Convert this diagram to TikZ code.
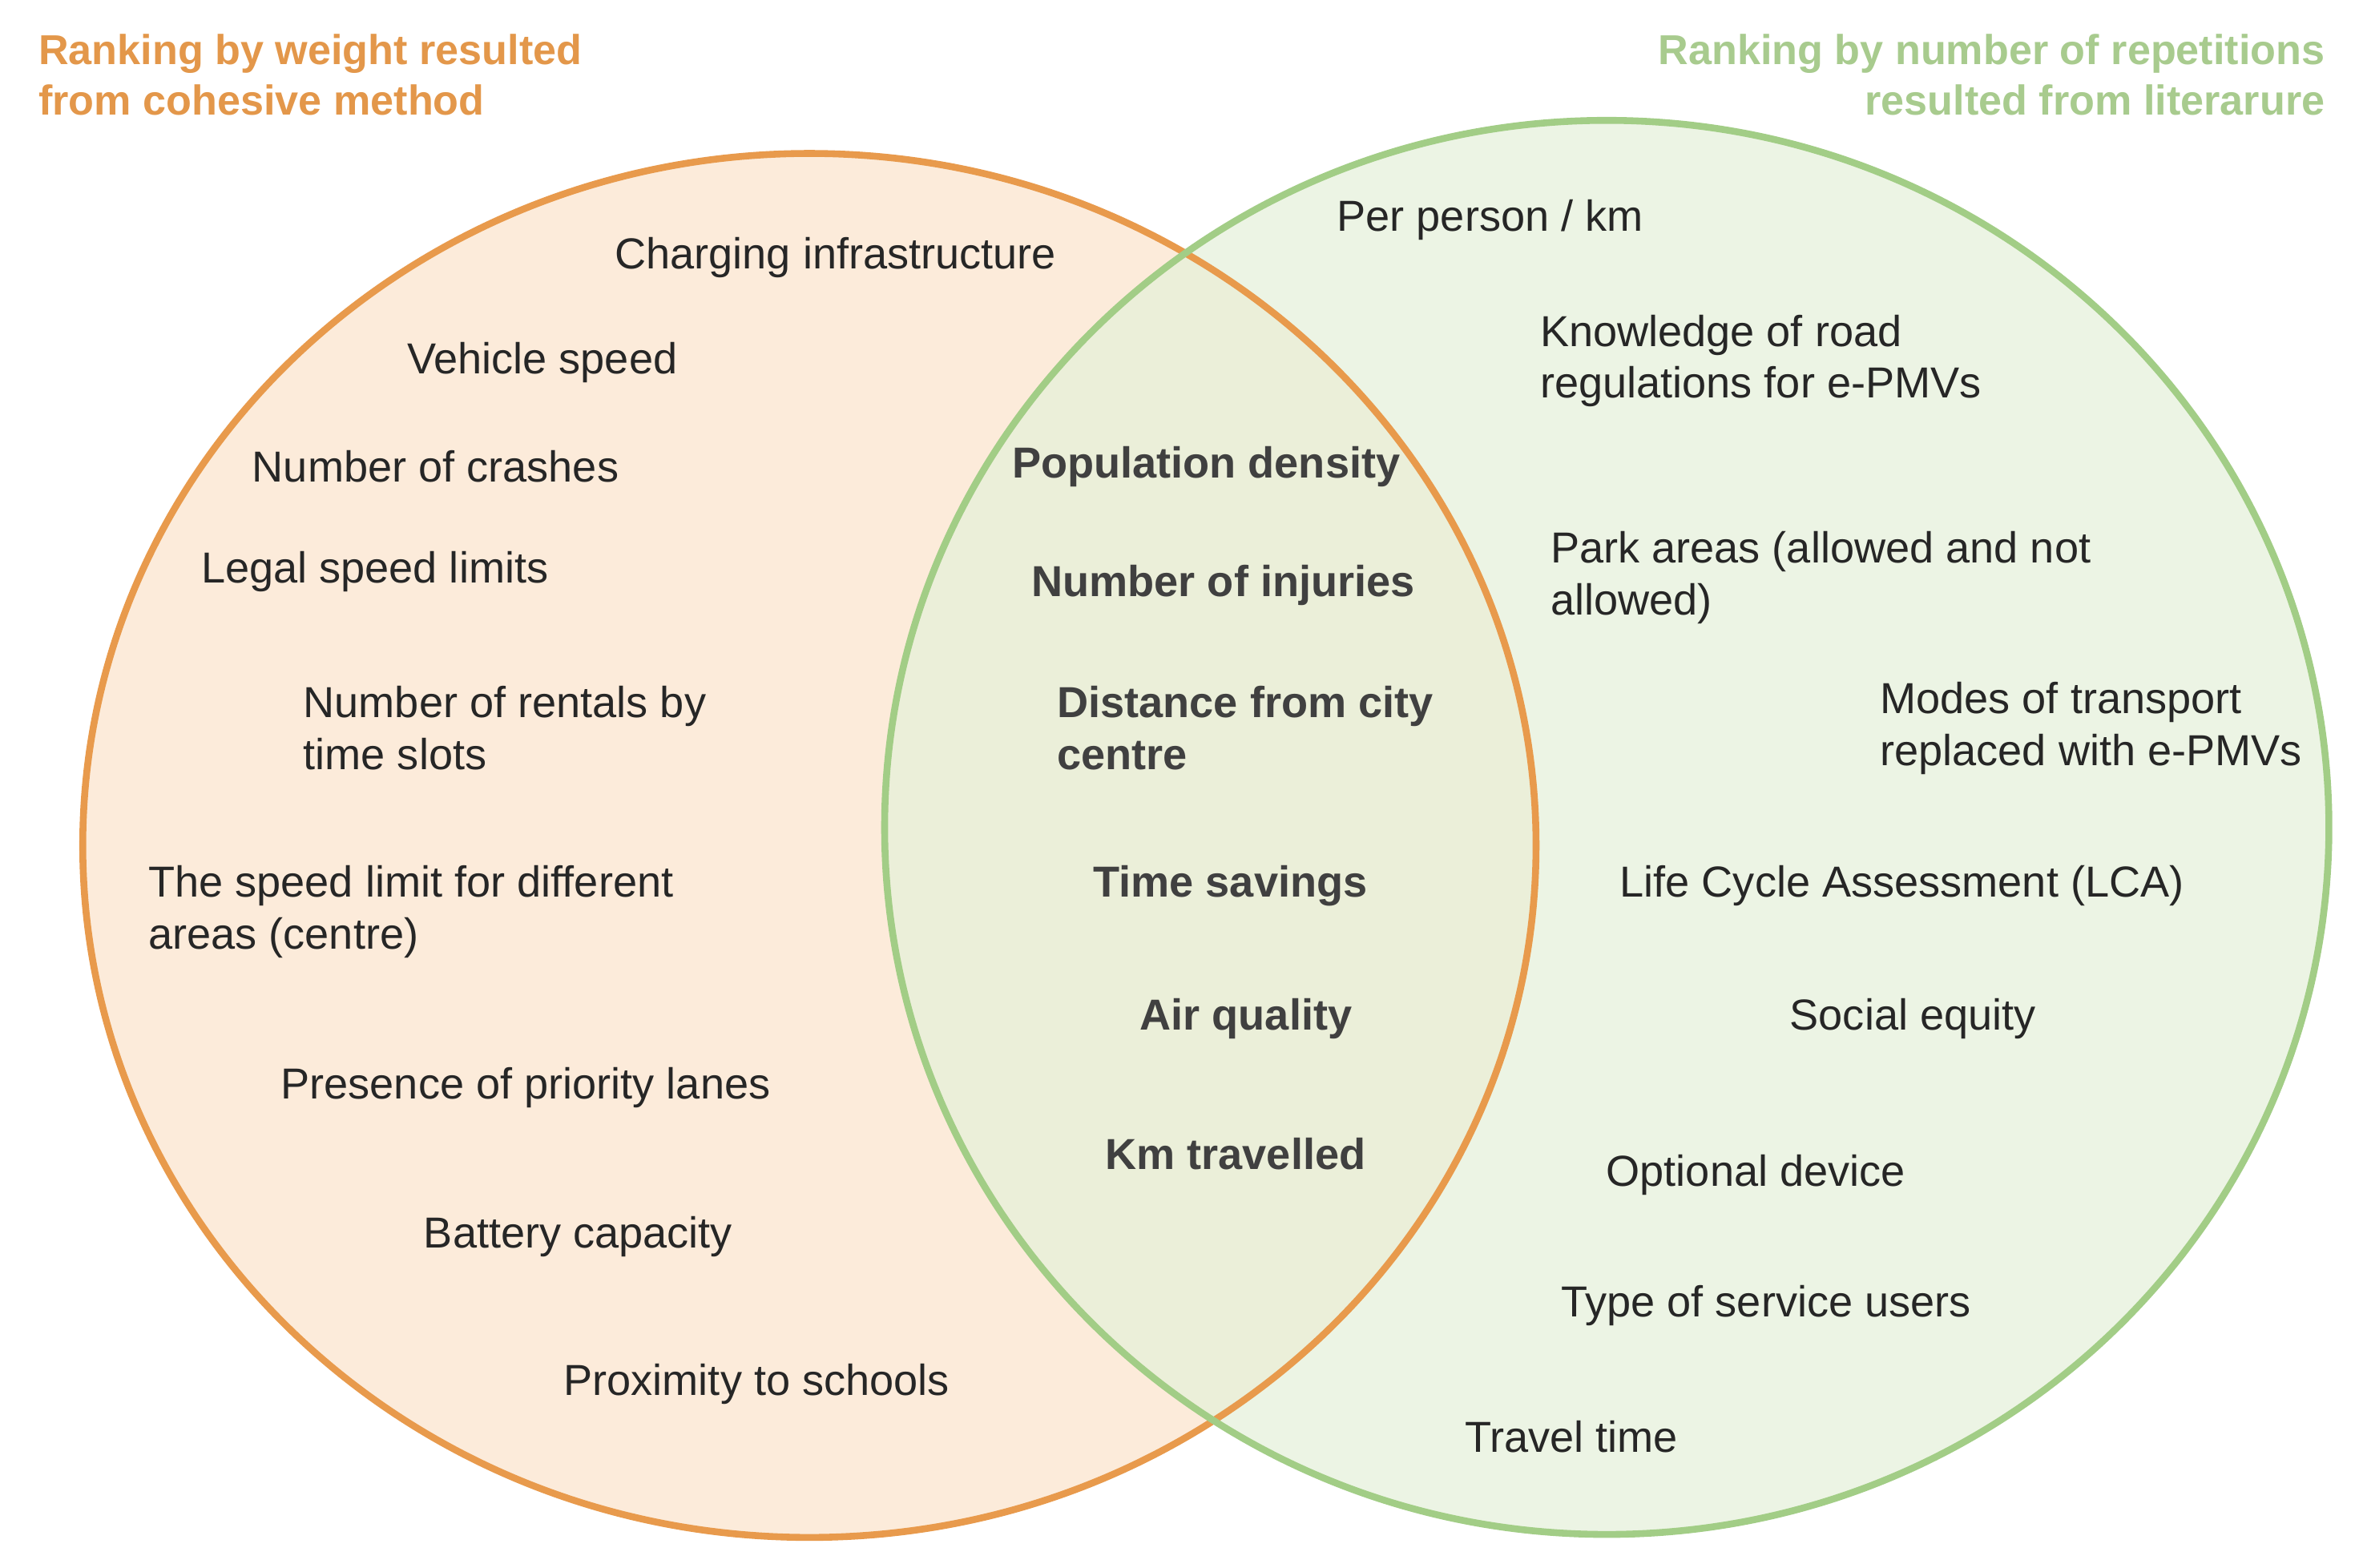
\documentclass[tikz,border=0pt]{standalone}
\usepackage{fontspec}
\setmainfont{Liberation Sans}
\definecolor{orstroke}{HTML}{E89A4C}
\definecolor{orfill}{HTML}{FBE3CB}
\definecolor{grstroke}{HTML}{A2CD86}
\definecolor{grfill}{HTML}{E4F0D8}
\definecolor{ortitle}{HTML}{E3974A}
\definecolor{grtitle}{HTML}{A8CB8E}
\begin{document}
\begin{tikzpicture}[x=0.01cm,y=-0.01cm,
  lbl/.style={anchor=west,font=\fontsize{8.2}{9.8}\selectfont,align=left,inner sep=0pt,text=black!85},
  blbl/.style={lbl,font=\fontsize{8.2}{9.8}\selectfont\bfseries,text=black!75},
  ttl/.style={font=\fontsize{7.9}{9.6}\selectfont\bfseries,inner sep=0pt}]
\useasboundingbox (0,0) rectangle (1568,1042);
\fill[orfill,fill opacity=0.7] (538,562) ellipse [x radius=483,y radius=460];
\fill[grfill,fill opacity=0.7] (1068,550) ellipse [x radius=480,y radius=470];
\draw[orstroke,line width=1.3pt] (538,562) ellipse [x radius=483,y radius=460];
\draw[grstroke,line width=1.3pt] (1068,550) ellipse [x radius=480,y radius=470];
\node[ttl,anchor=north west,text=ortitle,align=left] (t1) at (25,22) {Ranking by weight resulted\\from cohesive method};
\node[ttl,anchor=north east,text=grtitle,align=right] (t2) at (1546,22) {Ranking by number of repetitions\\resulted from literarure};
% left
\node[lbl] (a1) at (408,171) {Charging infrastructure};
\node[lbl] (a2) at (270,241) {Vehicle speed};
\node[lbl] (a3) at (167,310) {Number of crashes};
\node[lbl] (a4) at (133,380) {Legal speed limits};
\node[lbl] (a5) at (201,484) {Number of rentals by\\time slots};
\node[lbl] (a6) at (98,606) {The speed limit for different\\areas (centre)};
\node[lbl] (a7) at (186,723) {Presence of priority lanes};
\node[lbl] (a8) at (281,822) {Battery capacity};
\node[lbl] (a9) at (374,920) {Proximity to schools};
% middle
\node[blbl] (m1) at (672,310) {Population density};
\node[blbl] (m2) at (685,389) {Number of injuries};
\node[blbl] (m3) at (702,484) {Distance from city\\centre};
\node[blbl] (m4) at (726,589) {Time savings};
\node[blbl] (m5) at (757,677) {Air quality};
\node[blbl] (m6) at (734,767) {Km travelled};
% right
\node[lbl] (r1) at (888,146) {Per person / km};
\node[lbl] (r2) at (1023,240) {Knowledge of road\\regulations for e-PMVs};
\node[lbl] (r3) at (1030,384) {Park areas (allowed and not\\allowed)};
\node[lbl] (r4) at (1249,484) {Modes of transport\\replaced with e-PMVs};
\node[lbl] (r5) at (1076,589) {Life Cycle Assessment (LCA)};
\node[lbl] (r6) at (1189,677) {Social equity};
\node[lbl] (r7) at (1067,781) {Optional device};
\node[lbl] (r8) at (1037,868) {Type of service users};
\node[lbl] (r9) at (973,955) {Travel time};
\end{tikzpicture}
\end{document}
